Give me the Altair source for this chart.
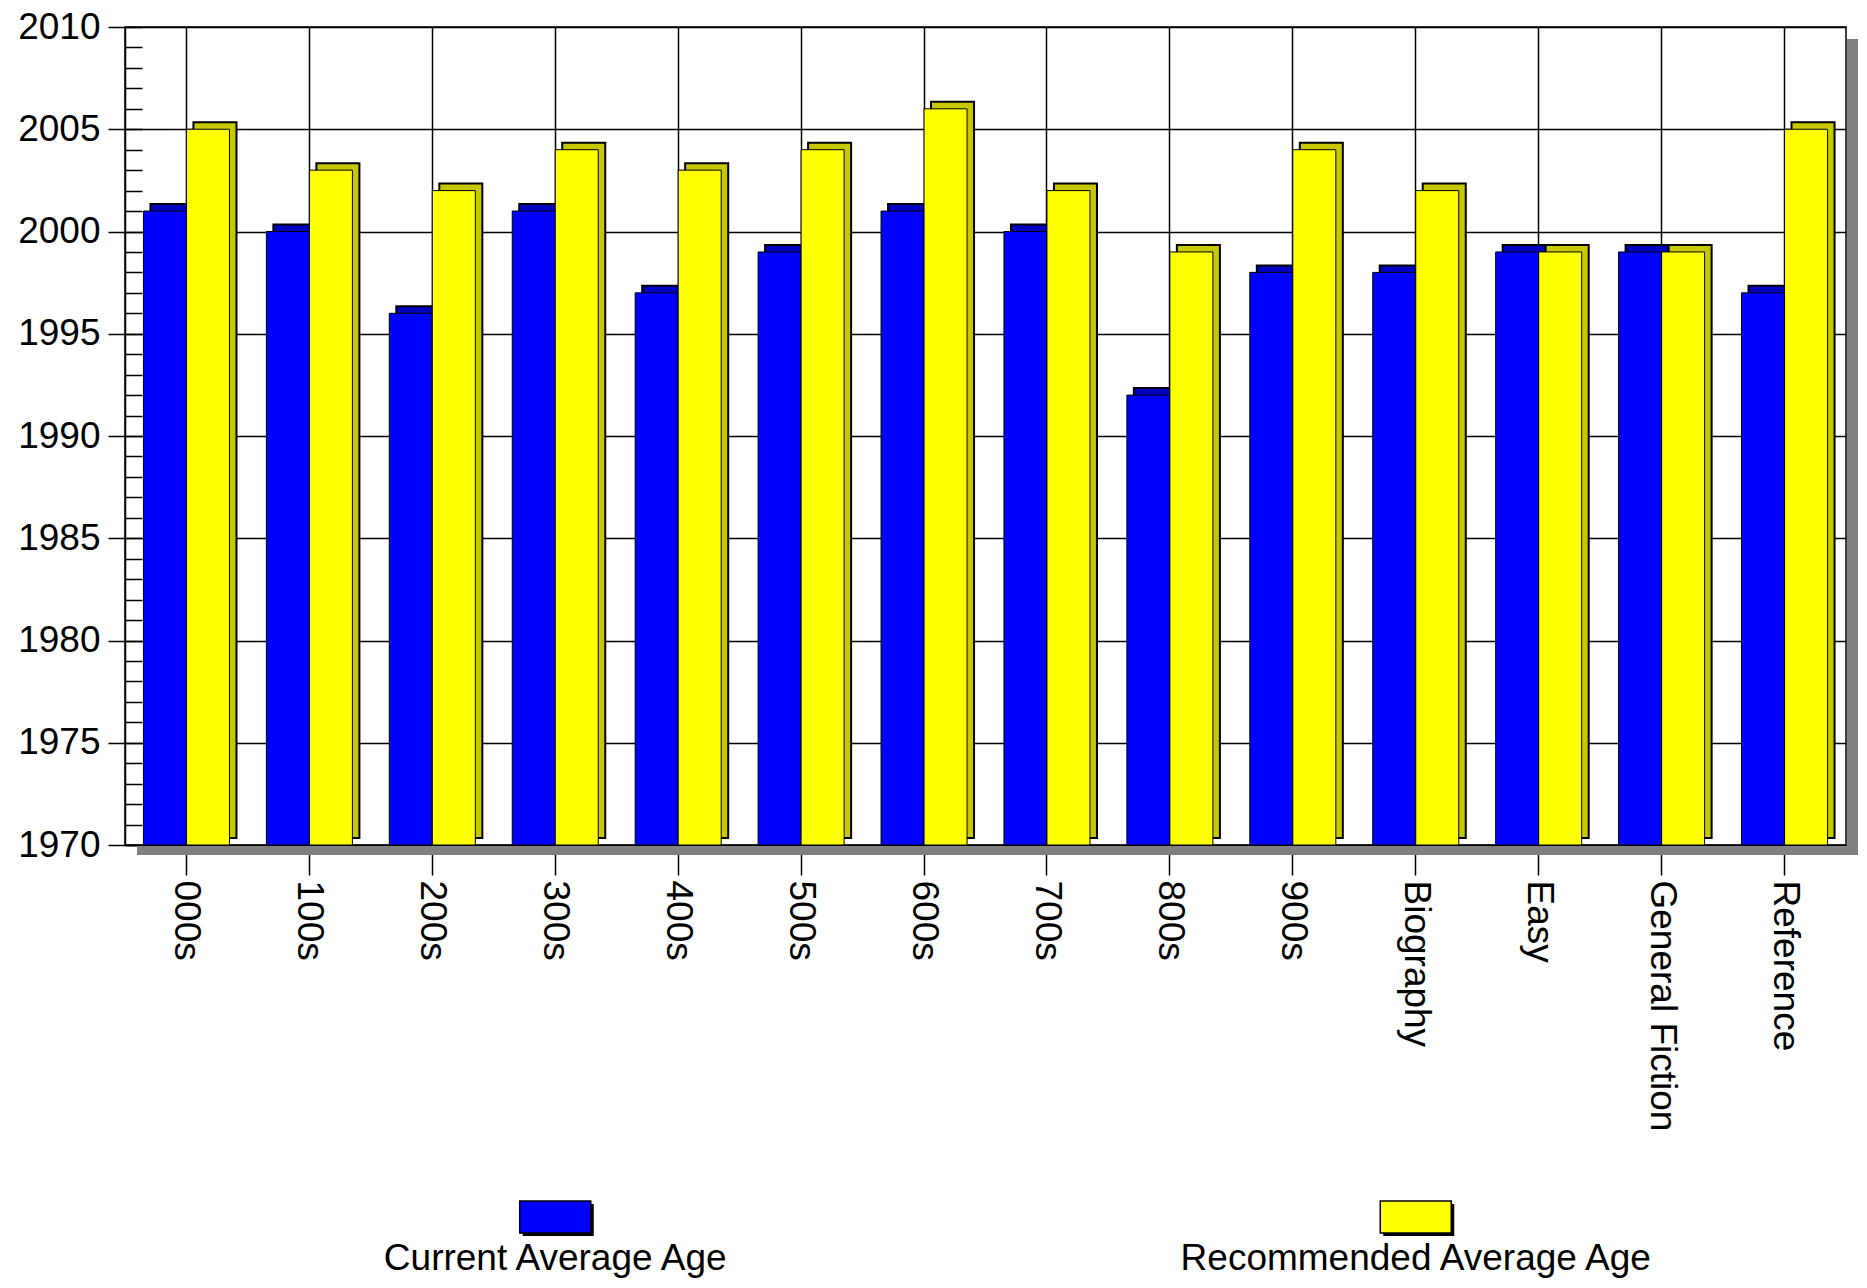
import altair as alt
import pandas as pd

categories = ["000s", "100s", "200s", "300s", "400s", "500s", "600s", "700s",
              "800s", "900s", "Biography", "Easy", "General Fiction", "Reference"]
current = [2001, 2000, 1996, 2001, 1997, 1999, 2001, 2000, 1992, 1998, 1998, 1999, 1999, 1997]
recommended = [2005, 2003, 2002, 2004, 2003, 2004, 2006, 2002, 1999, 2004, 2002, 1999, 1999, 2005]
series = ["Current Average Age", "Recommended Average Age"]
front_colors = ["#0000FF", "#FFFF00"]
side_colors = ["#0000C0", "#C8C800"]
y_min, y_max = 1970, 2010
y_major = list(range(1970, 2011, 5))
y_minor = list(range(1970, 2011, 1))

W, H = 1721, 818
FONT = "Liberation Sans, Arial, sans-serif"
FS = 37

df = pd.DataFrame({"category": categories, "current": current, "recommended": recommended})
leg = pd.DataFrame({"series": series, "color": front_colors})
one = pd.DataFrame({"a": [0]})

xscale = alt.Scale(domain=categories, paddingInner=0, paddingOuter=0)
yscale = alt.Scale(domain=[y_min, y_max], zero=False, nice=False)

x_axis = alt.Axis(title=None, labelAngle=90, labelAlign="left", labelBaseline="middle",
                  labelFontSize=FS, labelFont=FONT, labelColor="black", labelPadding=5,
                  tickSize=30, tickColor="black", tickWidth=1.5,
                  domainColor="black", domainWidth=1.5,
                  grid=True, gridColor="black", gridWidth=1.5, gridOpacity=1,
                  bandPosition=0.5, labelLimit=0, labelOverlap=False)
y_axis_major = alt.Axis(title=None, orient="left", values=y_major, format="d",
                        labelFontSize=FS, labelFont=FONT,
                        labelColor="black", labelPadding=8, tickSize=17, tickColor="black",
                        tickWidth=1.5, domainColor="black", domainWidth=1.5,
                        grid=True, gridColor="black", gridWidth=1.5, gridOpacity=1,
                        labelOverlap=False)
y_axis_minor = alt.Axis(title=None, orient="left", values=y_minor, labels=False, domain=False,
                        grid=False, ticks=True, tickSize=17, tickColor="black", tickWidth=1.5,
                        offset=-17)


def bar_layer(field, fill, xoff, yoff, sw, axis_x, axis_y):
    return alt.Chart(df).mark_bar(
        width=alt.RelativeBandSize(0.35), xOffset=xoff, yOffset=yoff, y2Offset=yoff,
        fill=fill, stroke="black", strokeWidth=sw, opacity=1
    ).encode(
        x=alt.X("category:N", scale=xscale, sort=categories, axis=axis_x),
        y=alt.Y(f"{field}:Q", scale=yscale, axis=axis_y),
        y2=alt.datum(y_min),
    )


half = 21.5
depth = 7
blue_back = bar_layer("current", side_colors[0], -half + depth, -depth, 2, None, y_axis_minor)
blue_front = bar_layer("current", front_colors[0], -half, 0, 1, x_axis, y_axis_major)
yel_back = bar_layer("recommended", side_colors[1], half + depth, -depth, 2, None, None)
yel_front = bar_layer("recommended", front_colors[1], half, 0, 1, None, None)

shadow_right = alt.Chart(one).mark_rect(fill="#808080").encode(
    x=alt.value(W + 1), x2=alt.value(W + 12), y=alt.value(12), y2=alt.value(H + 10))
shadow_bottom = alt.Chart(one).mark_rect(fill="#808080").encode(
    x=alt.value(12), x2=alt.value(W + 12), y=alt.value(H + 1), y2=alt.value(H + 10))

legx = alt.X("series:N", scale=alt.Scale(domain=series, paddingInner=0, paddingOuter=0), axis=None)
swatch_path = "M-1,-0.45L1,-0.45L1,0.45L-1,0.45Z"
leg_shadow = alt.Chart(leg).mark_point(shape=swatch_path, size=5041, filled=True, fill="black",
                                       strokeWidth=0, opacity=1, xOffset=3, yOffset=3).encode(
    x=legx, y=alt.value(1190))
leg_swatch = alt.Chart(leg).mark_point(shape=swatch_path, size=5041, filled=True, stroke="black",
                                       strokeWidth=1.5, opacity=1).encode(
    x=legx, y=alt.value(1190), fill=alt.Fill("color:N", scale=None))
leg_text = alt.Chart(leg).mark_text(fontSize=FS, font=FONT, baseline="alphabetic", align="center",
                                    color="black").encode(
    x=legx, y=alt.value(1243), text="series:N")

chart = alt.layer(
    shadow_right, shadow_bottom, blue_back, blue_front, yel_back, yel_front,
    leg_shadow, leg_swatch, leg_text
).resolve_scale(x="independent").resolve_axis(x="independent", y="independent").properties(
    width=W, height=H,
    padding={"left": 117, "top": 19, "right": 13, "bottom": 435},
    autosize=alt.AutoSizeParams(type="none"),
    background="white",
).configure_view(stroke="black", strokeWidth=1.5, fill="white")

chart.save("out.html", embed_options={"renderer": "svg", "actions": False})
